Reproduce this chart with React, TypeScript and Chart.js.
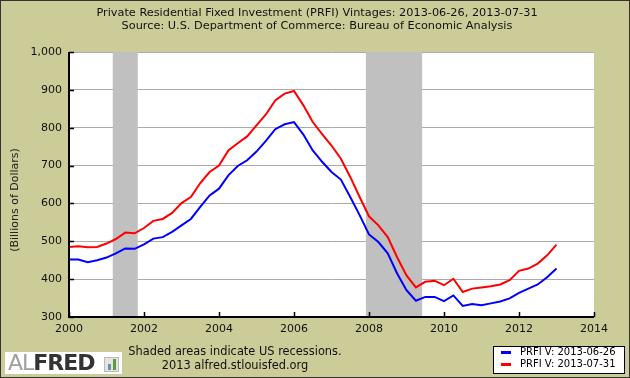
import React, { useEffect, useRef } from 'react';
import { Chart, registerables } from 'chart.js';

Chart.register(...registerables);

// ---- data ----
const dates = [
  '2000-01', '2000-04', '2000-07', '2000-10',
  '2001-01', '2001-04', '2001-07', '2001-10',
  '2002-01', '2002-04', '2002-07', '2002-10',
  '2003-01', '2003-04', '2003-07', '2003-10',
  '2004-01', '2004-04', '2004-07', '2004-10',
  '2005-01', '2005-04', '2005-07', '2005-10',
  '2006-01', '2006-04', '2006-07', '2006-10',
  '2007-01', '2007-04', '2007-07', '2007-10',
  '2008-01', '2008-04', '2008-07', '2008-10',
  '2009-01', '2009-04', '2009-07', '2009-10',
  '2010-01', '2010-04', '2010-07', '2010-10',
  '2011-01', '2011-04', '2011-07', '2011-10',
  '2012-01', '2012-04', '2012-07', '2012-10',
  '2013-01',
];

const prfiJune = [
  452, 452, 445, 450,
  457, 468, 481, 480,
  492, 507, 511, 525,
  542, 559, 591, 621,
  639, 674, 699, 714,
  737, 765, 796, 809,
  815, 782, 740, 710,
  683, 663, 617, 569,
  518, 498, 468, 415,
  371, 343, 353, 353,
  342, 357, 329, 334,
  331, 336, 341, 349,
  364, 375, 386, 405,
  428,
];

const prfiJuly = [
  485, 487, 484, 485,
  494, 506, 523, 521,
  535, 554, 559, 575,
  601, 617, 654, 683,
  700, 740, 759, 777,
  806, 835, 872, 890,
  897, 859, 815, 783,
  753, 718, 670, 617,
  566, 542, 511, 458,
  410, 378, 393, 396,
  384, 401, 366, 375,
  378, 381, 386, 397,
  422, 428, 441, 463,
  491,
];

const seriesLabels = ['PRFI V: 2013-06-26', 'PRFI V: 2013-07-31'];
const seriesColors = ['#0000ff', '#ff0000'];

const recessionStarts = ['2001-03', '2007-12'];
const recessionEnds = ['2001-11', '2009-06'];

const xTickYears = [2000, 2002, 2004, 2006, 2008, 2010, 2012, 2014];
const yTickValues = [300, 400, 500, 600, 700, 800, 900, 1000];

const titleLines = [
  'Private Residential Fixed Investment (PRFI) Vintages: 2013-06-26, 2013-07-31',
  'Source: U.S. Department of Commerce: Bureau of Economic Analysis',
];
const yAxisTitle = '(Billions of Dollars)';
const footerLines = ['Shaded areas indicate US recessions.', '2013 alfred.stlouisfed.org'];

// ---- helpers ----
const FONT = '"DejaVu Sans", Verdana, sans-serif';
const BG = '#cccc99';

function toYear(d: string): number {
  const [y, m] = d.split('-').map(Number);
  return y + (m - 1) / 12;
}

const shadePlugin = {
  id: 'shade',
  beforeDraw(chart: any) {
    const { ctx, chartArea: a } = chart;
    ctx.save();
    ctx.fillStyle = BG;
    ctx.fillRect(0, 0, chart.width, chart.height);
    ctx.fillStyle = '#ffffff';
    ctx.fillRect(a.left, a.top, a.right - a.left, a.bottom - a.top);
    ctx.restore();
  },
  beforeDatasetsDraw(chart: any) {
    const { ctx, chartArea: a, scales } = chart;
    const xs = scales.x;
    ctx.save();
    ctx.fillStyle = '#c0c0c0';
    recessionStarts.forEach((s, i) => {
      const x0 = xs.getPixelForValue(toYear(s));
      const x1 = xs.getPixelForValue(toYear(recessionEnds[i]));
      ctx.fillRect(x0, a.top, x1 - x0, a.bottom - a.top);
    });
    ctx.restore();
  },
  afterDatasetsDraw(chart: any) {
    const { ctx, chartArea: a, scales } = chart;
    ctx.save();
    ctx.strokeStyle = '#000000';
    ctx.lineWidth = 2;
    ctx.beginPath();
    ctx.moveTo(a.left, a.top);
    ctx.lineTo(a.left, a.bottom);
    ctx.lineTo(a.right, a.bottom);
    ctx.stroke();
    ctx.lineWidth = 1.5;
    ctx.beginPath();
    yTickValues.forEach((v) => {
      const y = Math.round(scales.y.getPixelForValue(v)) + 0.5;
      ctx.moveTo(a.left, y);
      ctx.lineTo(a.left + 5, y);
    });
    xTickYears.forEach((v) => {
      const x = Math.round(scales.x.getPixelForValue(v)) + 0.5;
      ctx.moveTo(x, a.bottom);
      ctx.lineTo(x, a.bottom - 5);
    });
    ctx.stroke();
    ctx.restore();
  },
  afterDraw(chart: any) {
    const { ctx } = chart;
    ctx.save();
    // y-axis title
    ctx.translate(15, 200);
    ctx.rotate(-Math.PI / 2);
    ctx.fillStyle = '#222222';
    ctx.font = `11px ${FONT}`;
    ctx.textAlign = 'center';
    ctx.textBaseline = 'middle';
    ctx.fillText(yAxisTitle, 0, 0);
    ctx.restore();

    // legend
    ctx.save();
    const bx = 493.5, by = 346.5, bw = 131, bh = 27;
    ctx.fillStyle = '#ffffff';
    ctx.fillRect(bx, by, bw, bh);
    ctx.strokeStyle = '#000000';
    ctx.lineWidth = 1;
    ctx.strokeRect(bx, by, bw, bh);
    chart.data.datasets.forEach((ds: any, i: number) => {
      const y = 352.5 + i * 12;
      ctx.strokeStyle = ds.borderColor;
      ctx.lineWidth = 3;
      ctx.beginPath();
      ctx.moveTo(501, y);
      ctx.lineTo(511, y);
      ctx.stroke();
      ctx.fillStyle = '#000000';
      ctx.font = `10px ${FONT}`;
      ctx.textAlign = 'left';
      ctx.textBaseline = 'middle';
      ctx.fillText(ds.label, 520, y);
    });
    ctx.restore();

    // outer border
    ctx.save();
    ctx.strokeStyle = '#333333';
    ctx.lineWidth = 1;
    ctx.strokeRect(0.5, 0.5, chart.width - 1, chart.height - 1);
    ctx.restore();
  },
};

export default function App() {
  const ref = useRef<HTMLCanvasElement | null>(null);

  useEffect(() => {
    if (!ref.current) return;
    const xs = dates.map(toYear);
    const chart = new Chart(ref.current, {
      type: 'line',
      data: {
        datasets: [prfiJune, prfiJuly].map((vals, i) => ({
          label: seriesLabels[i],
          data: vals.map((v, j) => ({ x: xs[j], y: v })),
          borderColor: seriesColors[i],
          backgroundColor: seriesColors[i],
          borderWidth: 2,
          pointRadius: 0,
          tension: 0,
          fill: false,
        })),
      },
      options: {
        responsive: false,
        animation: false,
        devicePixelRatio: 1,
        layout: { padding: { top: 52, right: 36, left: 0, bottom: 0 } },
        plugins: { legend: { display: false }, tooltip: { enabled: false }, title: { display: false } },
        scales: {
          x: {
            type: 'linear',
            min: 2000,
            max: 2014,
            afterBuildTicks: (s: any) => {
              s.ticks = xTickYears.map((v) => ({ value: v }));
            },
            afterFit: (s: any) => {
              s.height = 61;
            },
            grid: { display: false, drawTicks: false },
            border: { display: false },
            ticks: {
              padding: 6,
              maxRotation: 0,
              autoSkip: false,
              color: '#111111',
              font: { family: FONT, size: 11 },
              callback: (v: any) => String(v),
            },
          },
          y: {
            type: 'linear',
            min: 300,
            max: 1000,
            afterBuildTicks: (s: any) => {
              s.ticks = yTickValues.map((v) => ({ value: v }));
            },
            afterFit: (s: any) => {
              s.width = 69;
            },
            grid: { color: '#aaaaaa', lineWidth: 1, drawTicks: false },
            border: { display: false },
            ticks: {
              padding: 7,
              color: '#111111',
              font: { family: FONT, size: 11 },
              callback: (v: any) => Number(v).toLocaleString('en-US'),
            },
          },
        },
      },
      plugins: [shadePlugin],
    });
    return () => chart.destroy();
  }, []);

  const textStyle: React.CSSProperties = {
    position: 'absolute',
    left: 0,
    width: 630,
    textAlign: 'center',
    fontFamily: FONT,
    fontSize: 11.3,
    color: '#111',
    lineHeight: '13px',
    whiteSpace: 'nowrap',
  };

  return (
    <div style={{ position: 'absolute', left: 0, top: 0, width: 630, height: 378, overflow: 'hidden' }}>
      <canvas ref={ref} width={630} height={378} style={{ position: 'absolute', left: 0, top: 0 }} />
      <div style={{ ...textStyle, top: 6, left: 2 }}>{titleLines[0]}</div>
      <div style={{ ...textStyle, top: 19, left: 2 }}>{titleLines[1]}</div>
      <div style={{ ...textStyle, top: 345, left: 128, width: 214, fontSize: 11.4 }}>{footerLines[0]}</div>
      <div style={{ ...textStyle, top: 359, left: 128, width: 214, fontSize: 11.4 }}>{footerLines[1]}</div>
      <div
        style={{
          position: 'absolute',
          left: 5,
          top: 352,
          width: 117,
          height: 22,
          background: '#ffffff',
          overflow: 'hidden',
        }}
      >
        <span
          style={{
            position: 'absolute',
            left: 3,
            top: -3,
            fontFamily: FONT,
            fontSize: 22,
            lineHeight: '28px',
            letterSpacing: -1,
            whiteSpace: 'nowrap',
          }}
        >
          <span style={{ color: '#a0a0a0' }}>AL</span>
          <span style={{ color: '#333333', fontWeight: 'bold' }}>FRED</span>
        </span>
        <div
          style={{
            position: 'absolute',
            left: 99,
            top: 5,
            width: 15,
            height: 15,
            background: '#e4e4e4',
            border: '1px solid #bbbbbb',
            boxSizing: 'border-box',
          }}
        >
          <div style={{ position: 'absolute', left: 3, bottom: 1, width: 3, height: 6, background: '#6a8fb0' }} />
          <div style={{ position: 'absolute', left: 8, bottom: 1, width: 3, height: 11, background: '#5f9a3a' }} />
        </div>
      </div>
    </div>
  );
}
